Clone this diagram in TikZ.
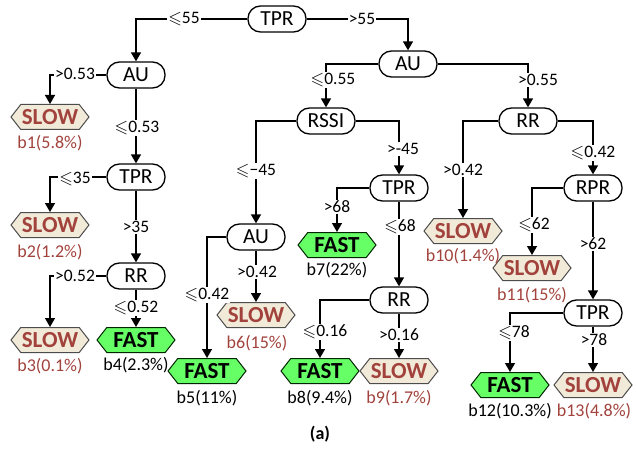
\documentclass[tikz,border=0pt]{standalone}
\usepackage{amssymb}
\usepackage{fontspec}
\setmainfont{Carlito}
\usetikzlibrary{shapes.symbols,arrows.meta}
\definecolor{fastfill}{RGB}{102,255,102}
\definecolor{slowfill}{RGB}{242,234,216}
\definecolor{slowtxt}{RGB}{162,66,60}
\tikzset{
 dec/.style={draw, line width=1.3pt, rounded corners=12.5pt, minimum width=58pt, minimum height=26pt, inner sep=0pt, font=\fontsize{21.5}{21.5}\selectfont},
 leaf/.style={shape=signal, signal to=east and west, signal pointer angle=104, draw, line width=1pt, minimum width=78pt, minimum height=25pt, inner sep=0pt, font=\bfseries\fontsize{23}{23}\selectfont},
 fast/.style={leaf, fill=fastfill, draw=black!85!green},
 slow/.style={leaf, fill=slowfill, draw=black!70, text=slowtxt},
 cnt/.style={inner sep=0pt, font=\fontsize{18}{18}\selectfont},
 cslow/.style={cnt, text=slowtxt},
 arr/.style={line width=1.4pt, -{Triangle[length=9pt,width=10pt]}},
 lbl/.style={fill=white, inner sep=1pt, font=\fontsize{17.5}{17.5}\selectfont},
}
\begin{document}
\begin{tikzpicture}[x=1pt,y=-1pt]
\useasboundingbox (0,0) rectangle (636,449);
% decision nodes
\node[dec] (tpr0) at (277,19) {TPR};
\node[dec] (au1) at (136,75) {AU};
\node[dec] (tpr2) at (136,177) {TPR};
\node[dec] (rr1) at (136,276) {RR};
\node[dec] (au2) at (408,64) {AU};
\node[dec] (rssi) at (326,121) {RSSI};
\node[dec] (rr2) at (528,121) {RR};
\node[dec] (au3) at (256,237) {AU};
\node[dec] (tpr3) at (399,188) {TPR};
\node[dec] (rr3) at (399,300) {RR};
\node[dec] (rpr) at (593,188) {RPR};
\node[dec] (tpr4) at (593,313) {TPR};
% leaves
\node[slow] (s1) at (50,117) {SLOW};
\node[slow] (s2) at (50,225) {SLOW};
\node[slow] (s3) at (50,340) {SLOW};
\node[fast] (f4) at (136,340) {FAST};
\node[fast] (f5) at (207,371) {FAST};
\node[slow] (s6) at (256,315) {SLOW};
\node[fast] (f7) at (337,245) {FAST};
\node[fast] (f8) at (320,371) {FAST};
\node[slow] (s9) at (399,371) {SLOW};
\node[slow] (s10) at (463,231) {SLOW};
\node[slow] (s11) at (532,268) {SLOW};
\node[fast] (f12) at (510,385) {FAST};
\node[slow] (s13) at (593,385) {SLOW};
% leaf captions
\node[cslow] (c1) at (50,143) {b1(5.8\%)};
\node[cslow] (c2) at (50,252) {b2(1.2\%)};
\node[cslow] (c3) at (50,366) {b3(0.1\%)};
\node[cnt] (c4) at (136,365) {b4(2.3\%)};
\node[cnt] (c5) at (207,398) {b5(11\%)};
\node[cslow] (c6) at (257,343) {b6(15\%)};
\node[cnt] (c7) at (337,270) {b7(22\%)};
\node[cnt] (c8) at (320,398) {b8(9.4\%)};
\node[cslow] (c9) at (399,398) {b9(1.7\%)};
\node[cslow] (c10) at (463,256) {b10(1.4\%)};
\node[cslow] (c11) at (532,295) {b11(15\%)};
\node[cnt] (c12) at (510,411) {b12(10.3\%)};
\node[cslow] (c13) at (594,411) {b13(4.8\%)};
% connectors
\draw[arr] (tpr0.west) -| (au1.north);
\draw[arr] (tpr0.east) -| (au2.north);
\draw[arr] (au1.west) -| (s1.north);
\draw[arr] (au1.south) -- (tpr2.north);
\draw[arr] (tpr2.west) -| (s2.north);
\draw[arr] (tpr2.south) -- (rr1.north);
\draw[arr] (rr1.west) -| (s3.north);
\draw[arr] (rr1.south) -- (f4.north);
\draw[arr] (au2.west) -| (rssi.north);
\draw[arr] (au2.east) -| (rr2.north);
\draw[arr] (rssi.west) -| (au3.north);
\draw[arr] (rssi.east) -| (tpr3.north);
\draw[arr] (au3.west) -| (f5.north);
\draw[arr] (au3.south) -- (s6.north);
\draw[arr] (tpr3.west) -| (f7.north);
\draw[arr] (tpr3.south) -- (rr3.north);
\draw[arr] (rr3.west) -| (f8.north);
\draw[arr] (rr3.south) -- (s9.north);
\draw[arr] (rr2.west) -| (s10.north);
\draw[arr] (rr2.east) -| (rpr.north);
\draw[arr] (rpr.west) -| (s11.north);
\draw[arr] (rpr.south) -- (tpr4.north);
\draw[arr] (tpr4.west) -| (f12.north);
\draw[arr] (tpr4.south) -- (s13.north);
% edge labels
\node[lbl] (l1) at (184,19) {$\leqslant$55};
\node[lbl] (l2) at (362,19) {>55};
\node[lbl] (l3) at (75,74) {>0.53};
\node[lbl] (l4) at (137,128) {$\leqslant$0.53};
\node[lbl] (l5) at (75,179) {$\leqslant$35};
\node[lbl] (l6) at (136,227) {>35};
\node[lbl] (l7) at (75,276) {>0.52};
\node[lbl] (l8) at (136,308) {$\leqslant$0.52};
\node[lbl] (l9) at (333,80) {$\leqslant$0.55};
\node[lbl] (l10) at (538,80) {>0.55};
\node[lbl] (l11) at (256,171) {$\leqslant$−45};
\node[lbl] (l12) at (403,149) {>-45};
\node[lbl] (l13) at (207,295) {$\leqslant$0.42};
\node[lbl] (l14) at (257,272) {>0.42};
\node[lbl] (l15) at (337,207) {>68};
\node[lbl] (l16) at (400,227) {$\leqslant$68};
\node[lbl] (l17) at (325,332) {$\leqslant$0.16};
\node[lbl] (l18) at (399,335) {>0.16};
\node[lbl] (l19) at (463,170) {>0.42};
\node[lbl] (l20) at (593,153) {$\leqslant$0.42};
\node[lbl] (l21) at (534,225) {$\leqslant$62};
\node[lbl] (l22) at (593,244) {>62};
\node[lbl] (l23) at (514,333) {$\leqslant$78};
\node[lbl] (l24) at (594,340) {>78};
\node[font=\bfseries\fontsize{18}{18}\selectfont] (cap) at (320,434) {(a)};
\end{tikzpicture}
\end{document}
